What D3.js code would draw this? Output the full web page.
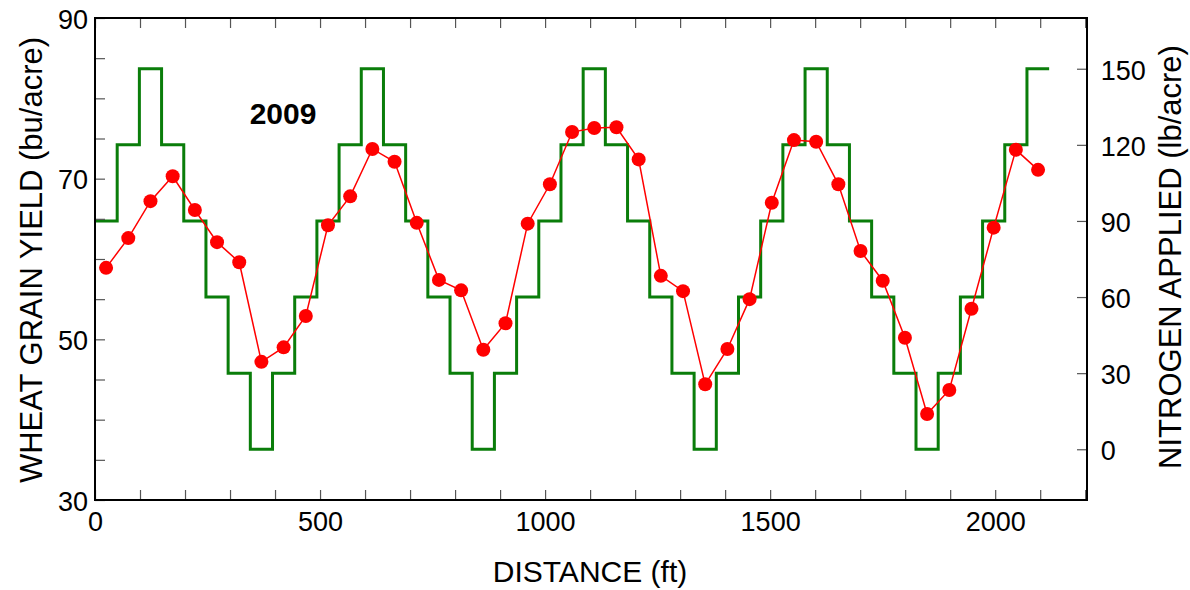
<!DOCTYPE html>
<html><head><meta charset="utf-8">
<script src="https://cdn.jsdelivr.net/npm/d3@7"></script>
<style>body{margin:0;background:#fff}text{font-family:"Liberation Sans",Arial,sans-serif}</style>
</head><body><svg id="c" width="1190" height="590"></svg>
<script>
const stepWidth = 49.3;
const nitrogenLevels = [90,120,150,120,90,60,30,0,30,60,90,120,150,120,90,60,30,0,30,60,90,120,150,120,90,60,30,0,30,60,90,120,150,120,90,60,30,0,30,60,90,120,150];
const yieldValues = [58.9,62.6,67.2,70.3,66.1,62.1,59.6,47.2,49.0,52.9,64.2,67.8,73.7,72.1,64.5,57.4,56.1,48.7,52.0,64.4,69.3,75.8,76.3,76.4,72.4,57.9,56.0,44.4,48.8,55.0,67.0,74.8,74.6,69.3,61.0,57.3,50.2,40.7,43.7,53.8,63.9,73.6,71.1];
const xTickLabels = [0,500,1000,1500,2000];
const yLeftLabels = [30,50,70,90];
const yRightLabels = [0,30,60,90,120,150];

const svg = d3.select("#c");
const L=95,R=1087,T=18,B=500;
const x = d3.scaleLinear().domain([0,2204]).range([L,R]);
const yL = d3.scaleLinear().domain([30,90]).range([B,T]);
const yR = d3.scaleLinear().domain([-20,170]).range([B,T]);

const steps=[];
nitrogenLevels.forEach((v,i)=>{steps.push([i*stepWidth,v]);steps.push([(i+1)*stepWidth,v]);});
svg.append("path").datum(steps).attr("fill","none").attr("stroke","#0a7d0a").attr("stroke-width",3)
 .attr("d",d3.line().x(d=>x(d[0])).y(d=>yR(d[1])));

const pts = yieldValues.map((v,i)=>[(i+0.5)*stepWidth,v]);
svg.append("path").datum(pts).attr("fill","none").attr("stroke","#ff0000").attr("stroke-width",1.5)
 .attr("d",d3.line().x(d=>x(d[0])).y(d=>yL(d[1])));
svg.selectAll("circle").data(pts).join("circle").attr("cx",d=>x(d[0])).attr("cy",d=>yL(d[1])).attr("r",7).attr("fill","#ff0000");

const tl=10;
const fmt=d3.format("d");
const bx=svg.append("g").attr("transform",`translate(0,${B})`).call(d3.axisBottom(x).tickValues(d3.range(0,2201,100)).tickSize(-tl).tickFormat(d=>xTickLabels.includes(d)?d:""));
const tx=svg.append("g").attr("transform",`translate(0,${T})`).call(d3.axisTop(x).tickValues(d3.range(0,2201,100)).tickSize(-tl).tickFormat(""));
const ly=svg.append("g").attr("transform",`translate(${L},0)`).call(d3.axisLeft(yL).tickValues(d3.range(30,91,5)).tickSize(-tl).tickFormat(d=>yLeftLabels.includes(d)?d:""));
const ry=svg.append("g").attr("transform",`translate(${R},0)`).call(d3.axisRight(yR).tickValues(yRightLabels).tickSize(-tl).tickFormat(fmt));
[bx,tx,ly,ry].forEach(g=>{g.select(".domain").remove();g.selectAll("line").attr("stroke","#555").attr("stroke-width",1.2);g.selectAll("text").attr("font-size",27).attr("fill","#000");});
bx.selectAll("text").attr("dy","1.05em");
ly.selectAll("text").attr("dx","-0.15em").attr("dy","0.38em");
ry.selectAll("text").attr("dx","0.4em").attr("dy","0.38em");
svg.append("rect").attr("x",L).attr("y",T).attr("width",R-L).attr("height",B-T).attr("fill","none").attr("stroke","#000").attr("stroke-width",2);

svg.append("text").attr("x",283).attr("y",124).attr("text-anchor","middle").attr("font-size",30).attr("font-weight","bold").text("2009");
svg.append("text").attr("x",590).attr("y",582).attr("text-anchor","middle").attr("font-size",30).text("DISTANCE (ft)");
svg.append("text").attr("transform",`translate(42,260) rotate(-90)`).attr("text-anchor","middle").attr("font-size",31).text("WHEAT GRAIN YIELD (bu/acre)");
svg.append("text").attr("transform",`translate(1181,257) rotate(-90)`).attr("text-anchor","middle").attr("font-size",31).text("NITROGEN APPLIED (lb/acre)");
</script></body></html>
